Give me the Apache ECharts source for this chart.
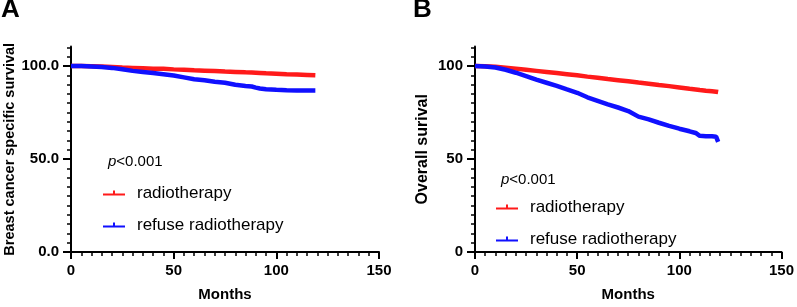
<!DOCTYPE html>
<html>
<head>
<meta charset="utf-8">
<script src="https://cdn.jsdelivr.net/npm/echarts@6/dist/echarts.min.js"></script>
<style>html,body{margin:0;padding:0;background:#fff;}#c{width:797px;height:307px;}</style>
</head>
<body>
<div id="c"></div>
<script>
// ---- data ----
const seriesNames = ['radiotherapy', 'refuse radiotherapy'];
const panelTitles = ['A', 'B'];
const yTitles = ['Breast cancer specific survival', 'Overall surival'];
const xTitle = 'Months';
const pText = 'p<0.001';
const xTicks = [0, 50, 100, 150];
const yTicks = [0, 50, 100];

const monthsA = [0, 5, 10, 15, 20, 25, 30, 35, 40, 45, 50, 55, 60, 65, 70, 75, 80, 85, 88, 90, 92, 95, 100, 105, 110, 115, 119];
const radioA  = [100, 100, 99.9, 99.7, 99.5, 99.2, 99.0, 98.8, 98.6, 98.5, 98.2, 98.0, 97.7, 97.5, 97.3, 97.0, 96.8, 96.6, 96.5, 96.4, 96.3, 96.1, 95.9, 95.6, 95.4, 95.2, 95.0];
const refuseA = [100, 100, 99.8, 99.5, 99.0, 98.3, 97.4, 96.8, 96.2, 95.6, 94.9, 93.9, 92.9, 92.4, 91.6, 91.0, 89.9, 89.3, 89.0, 88.4, 87.9, 87.5, 87.2, 87.0, 86.9, 86.9, 86.9];

const monthsB = [0, 5, 10, 15, 20, 25, 30, 35, 40, 45, 50, 55, 60, 65, 70, 75, 80, 85, 90, 95, 100, 105, 108, 110, 113, 116, 118, 119];
const radioB  = [100, 99.9, 99.6, 99.1, 98.6, 98.0, 97.4, 96.8, 96.2, 95.6, 95.0, 94.3, 93.7, 93.0, 92.4, 91.8, 91.1, 90.5, 89.8, 89.2, 88.5, 87.8, 87.4, 87.1, 86.7, 86.4, 86.2, 86.0];
const refuseB = [100, 99.8, 99.2, 98.0, 96.4, 94.6, 92.7, 91.0, 89.3, 87.4, 85.6, 83.2, 81.3, 79.4, 77.7, 75.8, 72.8, 71.3, 69.5, 67.8, 66.3, 64.9, 64.0, 62.5, 62.3, 62.2, 62.0, 59.2];

// ---- chart ----
const FF = '"Liberation Sans", Arial, sans-serif';
const RED = '#ff1a1a', BLUE = '#1010ff';
const zip = (xs, ys) => xs.map((x, i) => [x, ys[i]]);

function xAxisCfg(gi) {
  return {
    type: 'value', gridIndex: gi, min: 0, max: 150, interval: 50,
    name: xTitle, nameLocation: 'middle', nameGap: 35,
    nameTextStyle: { fontFamily: FF, fontWeight: 'bold', fontSize: 15, color: '#000' },
    axisLine: { show: true, lineStyle: { color: '#000', width: 2 } },
    axisTick: { show: true, length: 7, lineStyle: { color: '#000', width: 2 } },
    minorTick: { show: true, splitNumber: 10, length: 4, lineStyle: { color: '#000', width: 1.5 } },
    splitLine: { show: false },
    axisLabel: { margin: 11, fontFamily: FF, fontWeight: 'bold', fontSize: 15, color: '#000', customValues: xTicks }
  };
}
function yAxisCfg(gi, name, gap, nameSize, fmt) {
  return {
    type: 'value', gridIndex: gi, min: 0, max: 110.5, interval: 50,
    name: name, nameLocation: 'middle', nameGap: gap, nameRotate: 90,
    nameTextStyle: { fontFamily: FF, fontWeight: 'bold', fontSize: nameSize, color: '#000' },
    axisLine: { show: true, lineStyle: { color: '#000', width: 2 } },
    axisTick: { show: true, length: 8, lineStyle: { color: '#000', width: 2 }, customValues: yTicks },
    minorTick: { show: true, splitNumber: 10, length: 4, lineStyle: { color: '#000', width: 1.5 } },
    splitLine: { show: false },
    axisLabel: { margin: 12, fontFamily: FF, fontWeight: 'bold', fontSize: 15, color: '#000', customValues: yTicks, formatter: fmt }
  };
}
function lineSeries(name, xi, data, color) {
  return {
    name: name, type: 'line', xAxisIndex: xi, yAxisIndex: xi, data: data,
    showSymbol: false, symbol: 'none', smooth: false,
    lineStyle: { color: color, width: 4.5 }, itemStyle: { color: color },
    emphasis: { disabled: true }, silent: true, animation: false
  };
}
const legendIcon = 'path://M0,6h22v2h-22z M10,3h2v3h-2z';
function legendCfg(left, top) {
  return {
    left: left, top: top, orient: 'vertical', itemGap: 12, itemWidth: 22, itemHeight: 5,
    selectedMode: false, padding: 0,
    textStyle: { fontFamily: FF, fontSize: 17, color: '#000', lineHeight: 20, padding: [0, 0, 0, 7] },
    data: seriesNames.map((n, i) => ({ name: n, icon: legendIcon, itemStyle: { color: i === 0 ? RED : BLUE } }))
  };
}

const chart = echarts.init(document.getElementById('c'), null, { renderer: 'canvas' });
chart.setOption({
  backgroundColor: '#fff',
  animation: false,
  title: [
    { text: panelTitles[0], left: 1, top: -3, padding: 0, textStyle: { fontFamily: FF, fontWeight: 'bold', fontSize: 26, color: '#000' } },
    { text: panelTitles[1], left: 413, top: -3, padding: 0, textStyle: { fontFamily: FF, fontWeight: 'bold', fontSize: 26, color: '#000' } }
  ],
  grid: [
    { left: 71, top: 46.5, width: 308, bottom: 54 },
    { left: 475, top: 46.5, width: 311, bottom: 54 }
  ],
  xAxis: [xAxisCfg(0), xAxisCfg(1)],
  yAxis: [
    yAxisCfg(0, yTitles[0], 52, 14.5, v => v.toFixed(1)),
    yAxisCfg(1, yTitles[1], 44, 16, v => String(v))
  ],
  legend: [legendCfg(103, 183), legendCfg(496, 197)],
  graphic: [
    { type: 'text', left: 108, top: 154, style: { text: '{i|p}' + pText.slice(1), rich: { i: { fontStyle: 'italic', fontFamily: FF, fontSize: 15 } }, fontFamily: FF, fontSize: 15, fill: '#000' } },
    { type: 'text', left: 501, top: 172, style: { text: '{i|p}' + pText.slice(1), rich: { i: { fontStyle: 'italic', fontFamily: FF, fontSize: 15 } }, fontFamily: FF, fontSize: 15, fill: '#000' } }
  ],
  series: [
    lineSeries(seriesNames[0], 0, zip(monthsA, radioA), RED),
    lineSeries(seriesNames[1], 0, zip(monthsA, refuseA), BLUE),
    lineSeries(seriesNames[0], 1, zip(monthsB, radioB), RED),
    lineSeries(seriesNames[1], 1, zip(monthsB, refuseB), BLUE)
  ]
});
</script>
</body>
</html>
